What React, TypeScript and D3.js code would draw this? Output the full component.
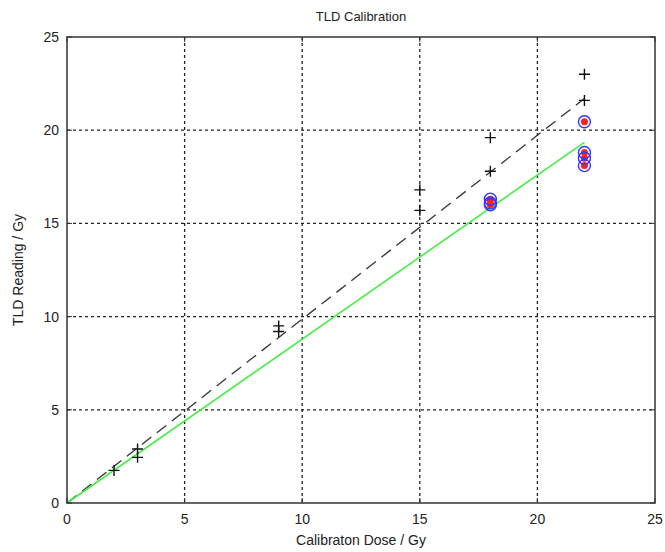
import { useEffect, useRef } from 'react'
import * as d3 from 'd3'

// calibration readings (black +)
const plusDose = [2, 3, 3, 9, 9, 15, 15, 18, 18, 22, 22]
const plusReading = [1.75, 2.9, 2.45, 9.5, 9.2, 16.8, 15.7, 19.6, 17.8, 23.0, 21.6]

// measured points (red dot inside blue circle)
const ptDose = [18, 18, 18, 22, 22, 22, 22]
const ptReading = [16.3, 16.1, 16.0, 20.45, 18.8, 18.5, 18.1]

// fit lines
const fitX = [0, 22]
const dashedFitY = [0, 21.7]
const greenFitY = [0, 19.35]

const ticks = [0, 5, 10, 15, 20, 25]

const M = { top: 37, right: 10, bottom: 49, left: 67 }
const W = 665
const H = 552

export default function App() {
  const svgRef = useRef<SVGSVGElement>(null)

  useEffect(() => {
    if (!svgRef.current) return
    const svg = d3.select(svgRef.current)
    svg.selectAll('*').remove()

    const iw = W - M.left - M.right
    const ih = H - M.top - M.bottom
    const g = svg.append('g').attr('transform', `translate(${M.left},${M.top})`)
    const font = 'Liberation Sans, Arial, sans-serif'

    const x = d3.scaleLinear().domain([0, 25]).range([0, iw])
    const y = d3.scaleLinear().domain([0, 25]).range([ih, 0])

    // Grid
    const inner = ticks.slice(1, -1)
    g.selectAll('.gx').data(inner).join('line')
      .attr('x1', d => x(d)).attr('x2', d => x(d)).attr('y1', 0).attr('y2', ih)
      .attr('stroke', '#222').attr('stroke-width', 1.3).attr('stroke-dasharray', '3,3')
    g.selectAll('.gy').data(inner).join('line')
      .attr('y1', d => y(d)).attr('y2', d => y(d)).attr('x1', 0).attr('x2', iw)
      .attr('stroke', '#222').attr('stroke-width', 1.3).attr('stroke-dasharray', '3,3')

    // Fit lines
    const line = d3.line<number>().x((_, i) => x(fitX[i])).y(d => y(d))
    g.append('path').attr('d', line(dashedFitY)).attr('fill', 'none')
      .attr('stroke', '#333').attr('stroke-width', 1.3).attr('stroke-dasharray', '12,7')
    g.append('path').attr('d', line(greenFitY)).attr('fill', 'none')
      .attr('stroke', '#44ee44').attr('stroke-width', 1.6)

    // Plus markers
    const s = 5.5
    plusDose.forEach((d, i) => {
      const cx = x(d), cy = y(plusReading[i])
      g.append('path').attr('d', `M${cx - s},${cy}H${cx + s}M${cx},${cy - s}V${cy + s}`)
        .attr('stroke', '#111').attr('stroke-width', 1.4)
    })

    // Red dots + blue circles
    g.selectAll('.rd').data(ptDose).join('circle')
      .attr('cx', d => x(d)).attr('cy', (_, i) => y(ptReading[i]))
      .attr('r', 3.5).attr('fill', '#ff2020')
    g.selectAll('.bc').data(ptDose).join('circle')
      .attr('cx', d => x(d)).attr('cy', (_, i) => y(ptReading[i]))
      .attr('r', 6).attr('fill', 'none').attr('stroke', '#3333ff').attr('stroke-width', 1.4)

    // Frame
    g.append('rect').attr('width', iw).attr('height', ih)
      .attr('fill', 'none').attr('stroke', '#333').attr('stroke-width', 1.5)

    // Ticks (inward, all sides)
    const tl = 5
    ticks.forEach(t => {
      g.append('line').attr('x1', x(t)).attr('x2', x(t)).attr('y1', ih).attr('y2', ih - tl).attr('stroke', '#333')
      g.append('line').attr('x1', x(t)).attr('x2', x(t)).attr('y1', 0).attr('y2', tl).attr('stroke', '#333')
      g.append('line').attr('y1', y(t)).attr('y2', y(t)).attr('x1', 0).attr('x2', tl).attr('stroke', '#333')
      g.append('line').attr('y1', y(t)).attr('y2', y(t)).attr('x1', iw).attr('x2', iw - tl).attr('stroke', '#333')
    })

    g.selectAll('.xl').data(ticks).join('text')
      .attr('x', d => x(d)).attr('y', ih + 21).attr('text-anchor', 'middle')
      .attr('font-family', font).attr('font-size', 14).attr('fill', '#222').text(d => d)
    g.selectAll('.yl').data(ticks).join('text')
      .attr('x', -8).attr('y', d => y(d) + 5).attr('text-anchor', 'end')
      .attr('font-family', font).attr('font-size', 14).attr('fill', '#222').text(d => d)

    // Labels
    g.append('text').attr('x', iw / 2).attr('y', -16).attr('text-anchor', 'middle')
      .attr('font-family', font).attr('font-size', 13).attr('fill', '#222').text('TLD Calibration')
    g.append('text').attr('x', iw / 2).attr('y', ih + 42).attr('text-anchor', 'middle')
      .attr('font-family', font).attr('font-size', 14).attr('fill', '#222').text('Calibraton Dose / Gy')
    g.append('text').attr('transform', `translate(${-44},${ih / 2}) rotate(-90)`)
      .attr('text-anchor', 'middle')
      .attr('font-family', font).attr('font-size', 14).attr('fill', '#222').text('TLD Reading / Gy')
  }, [])

  return (
    <div style={{ position: 'fixed', left: 0, top: 0 }}>
      <svg ref={svgRef} width={W} height={H} style={{ display: 'block', background: '#fff' }} />
    </div>
  )
}
